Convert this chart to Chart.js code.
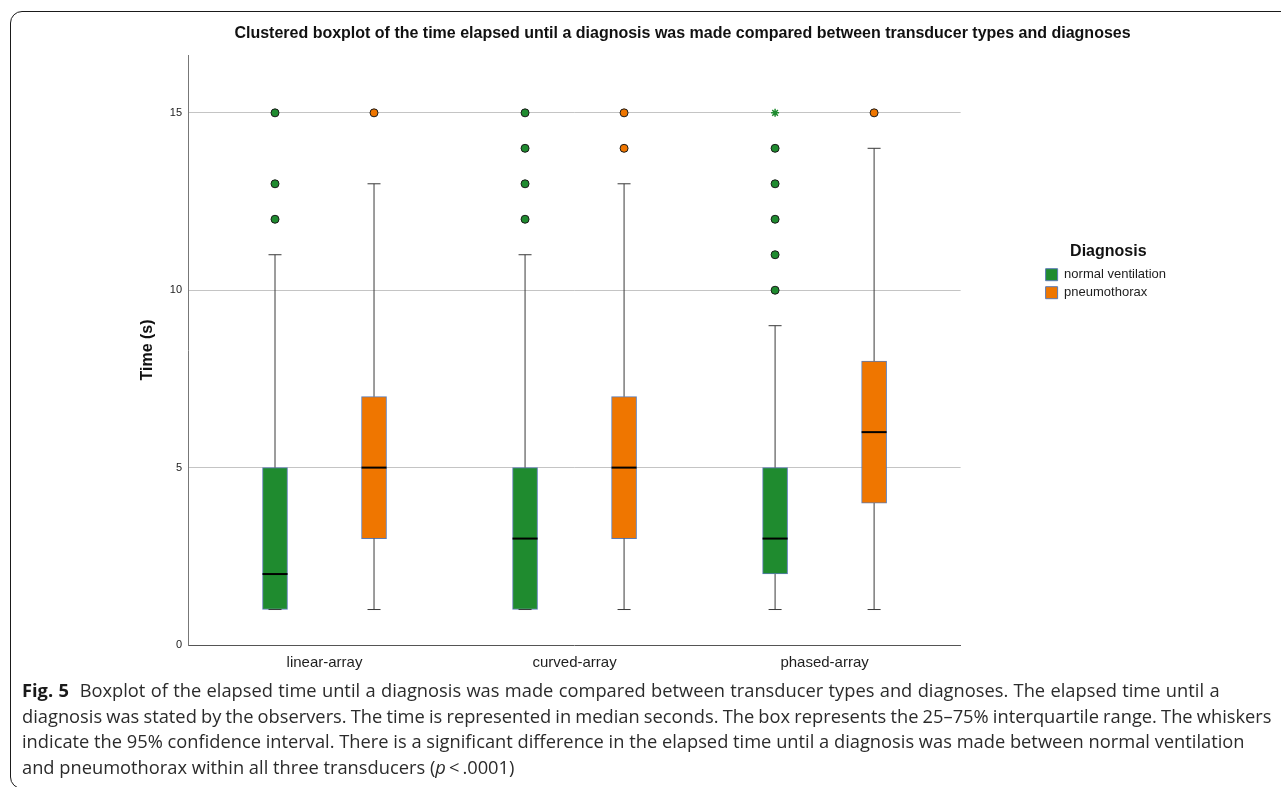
<!DOCTYPE html>
<html>
<head>
<meta charset="utf-8">
<script src="https://cdn.jsdelivr.net/npm/chart.js"></script>
<style>
  html, body { margin: 0; padding: 0; background: #fff; overflow: hidden; width: 1281px; height: 787px; }
  #frame {
    position: absolute; left: 10px; top: 11px; width: 1400px; height: 778px;
    box-sizing: border-box; border: 1px solid #1a1a1a; border-radius: 12px;
  }
  #chart { position: absolute; left: 0; top: 0; }
  #caption {
    position: absolute; left: 22px; top: 677px;
    font-family: "Open Sans", "Noto Sans", sans-serif; font-size: 18.3px; line-height: 25.5px;
    color: #2b2b2b; white-space: nowrap;
  }
  #caption b { font-weight: 700; color: #1a1a1a; }
  #caption .l1 { word-spacing: 0.6px; }
  #caption .l2 { word-spacing: -0.6px; }
</style>
</head>
<body>
<div id="frame"></div>
<canvas id="chart" width="1365" height="680"></canvas>
<div id="caption">
  <span class="l1"><b>Fig. 5</b>&nbsp; Boxplot of the elapsed time until a diagnosis was made compared between transducer types and diagnoses. The elapsed time until a</span><br>
  <span class="l2">diagnosis was stated by the observers. The time is represented in median seconds. The box represents the 25–75% interquartile range. The whiskers</span><br>
  indicate the 95% confidence interval. There is a significant difference in the elapsed time until a diagnosis was made between normal ventilation<br>
  and pneumothorax within all three transducers (<i>p</i>&thinsp;&lt;&thinsp;.0001)
</div>
<script>
const categories = ['linear-array', 'curved-array', 'phased-array'];
const yTicks = [0, 5, 10, 15];

// normal ventilation
const normalMin = [1, 1, 1];
const normalQ1 = [1, 1, 2];
const normalMedian = [2, 3, 3];
const normalQ3 = [5, 5, 5];
const normalMax = [11, 11, 9];
const normalOutliers = [[12, 13, 15], [12, 13, 14, 15], [10, 11, 12, 13, 14]];
const normalExtremes = [[], [], [15]];

// pneumothorax
const pneumoMin = [1, 1, 1];
const pneumoQ1 = [3, 3, 4];
const pneumoMedian = [5, 5, 6];
const pneumoQ3 = [7, 7, 8];
const pneumoMax = [13, 13, 14];
const pneumoOutliers = [[15], [14, 15], [15]];
const pneumoExtremes = [[], [], []];

const GREEN = '#1f8b2f';
const ORANGE = '#ef7600';
const BOX_EDGE = '#5b7bb5';
const GROUP_OFFSET = 0.198;

Chart.defaults.font.family = '"Liberation Sans", Arial, sans-serif';
Chart.defaults.color = '#222';

function boxData(offset, q1, q3) {
  return categories.map((c, i) => ({ x: i + 1 + offset, y: [q1[i], q3[i]] }));
}

function pointData(offset, lists) {
  const pts = [];
  lists.forEach((vals, i) => vals.forEach(v => pts.push({ x: i + 1 + offset, y: v })));
  return pts;
}

// whiskers, caps and median lines on top of the floating bars
const boxWhiskers = {
  id: 'boxWhiskers',
  afterDatasetsDraw(chart) {
    const ctx = chart.ctx;
    const yScale = chart.scales.y;
    chart.data.datasets.forEach((ds, d) => {
      if (!ds.stats) return;
      const meta = chart.getDatasetMeta(d);
      meta.data.forEach((bar, i) => {
        const x = bar.x;
        const half = bar.width / 2;
        const yMin = yScale.getPixelForValue(ds.stats.min[i]);
        const yQ1 = yScale.getPixelForValue(ds.stats.q1[i]);
        const yQ3 = yScale.getPixelForValue(ds.stats.q3[i]);
        const yMax = yScale.getPixelForValue(ds.stats.max[i]);
        const yMed = yScale.getPixelForValue(ds.stats.median[i]);
        ctx.save();
        ctx.strokeStyle = '#3a3a3a';
        ctx.lineWidth = 1;
        ctx.beginPath();
        ctx.moveTo(x, yQ3); ctx.lineTo(x, yMax);
        ctx.moveTo(x - 6.5, yMax); ctx.lineTo(x + 6.5, yMax);
        ctx.moveTo(x, yQ1); ctx.lineTo(x, yMin);
        ctx.moveTo(x - 6.5, yMin); ctx.lineTo(x + 6.5, yMin);
        ctx.stroke();
        ctx.strokeStyle = '#000';
        ctx.lineWidth = 2;
        ctx.beginPath();
        ctx.moveTo(x - half, yMed); ctx.lineTo(x + half, yMed);
        ctx.stroke();
        ctx.restore();
      });
    });
  }
};

// empty right-hand axes used only as gaps around the legend
function spacer(width, weight) {
  return {
    type: 'linear', position: 'right', weight: weight,
    grid: { display: false }, ticks: { display: false }, border: { display: false },
    afterFit(scale) { scale.width = width; }
  };
}

new Chart(document.getElementById('chart'), {
  type: 'bar',
  data: {
    datasets: [
      {
        label: 'normal ventilation',
        data: boxData(-GROUP_OFFSET, normalQ1, normalQ3),
        backgroundColor: GREEN, borderColor: BOX_EDGE, borderWidth: 1, borderSkipped: false,
        grouped: false, maxBarThickness: 25, barPercentage: 1, categoryPercentage: 1,
        stats: { min: normalMin, q1: normalQ1, median: normalMedian, q3: normalQ3, max: normalMax }
      },
      {
        label: 'pneumothorax',
        data: boxData(GROUP_OFFSET, pneumoQ1, pneumoQ3),
        backgroundColor: ORANGE, borderColor: BOX_EDGE, borderWidth: 1, borderSkipped: false,
        grouped: false, maxBarThickness: 25, barPercentage: 1, categoryPercentage: 1,
        stats: { min: pneumoMin, q1: pneumoQ1, median: pneumoMedian, q3: pneumoQ3, max: pneumoMax }
      },
      {
        type: 'scatter', label: 'outliers-normal',
        data: pointData(-GROUP_OFFSET, normalOutliers),
        backgroundColor: GREEN, borderColor: '#1a1a1a', borderWidth: 1, pointRadius: 4
      },
      {
        type: 'scatter', label: 'outliers-pneumo',
        data: pointData(GROUP_OFFSET, pneumoOutliers),
        backgroundColor: ORANGE, borderColor: '#1a1a1a', borderWidth: 1, pointRadius: 4
      },
      {
        type: 'scatter', label: 'extremes-normal',
        data: pointData(-GROUP_OFFSET, normalExtremes),
        pointStyle: 'star', backgroundColor: GREEN, borderColor: GREEN, borderWidth: 1.5, pointRadius: 4
      },
      {
        type: 'scatter', label: 'extremes-pneumo',
        data: pointData(GROUP_OFFSET, pneumoExtremes),
        pointStyle: 'star', backgroundColor: ORANGE, borderColor: ORANGE, borderWidth: 1.5, pointRadius: 4
      }
    ]
  },
  options: {
    responsive: false,
    animation: false,
    events: [],
    layout: { padding: { top: 24, bottom: 5, left: 0, right: 0 } },
    scales: {
      x: {
        type: 'linear', min: 0.454, max: 3.544, offset: false,
        grid: { display: false, drawTicks: false },
        border: { color: '#555', width: 1 },
        afterFit(scale) { scale.height = 30; },
        afterBuildTicks(scale) { scale.ticks = categories.map((c, i) => ({ value: i + 1 })); },
        ticks: {
          padding: 9, font: { size: 15 }, color: '#1e1e1e', maxRotation: 0,
          callback: (v) => categories[v - 1]
        }
      },
      y: {
        min: 0, max: 16.63,
        afterFit(scale) { scale.width = 188; },
        afterBuildTicks(scale) { scale.ticks = yTicks.map(v => ({ value: v })); },
        grid: {
          drawTicks: false,
          color: (c) => (c.tick && c.tick.value === 0 ? 'rgba(0,0,0,0)' : '#c4c4c4')
        },
        border: { color: '#777', width: 1 },
        ticks: { padding: 6, font: { size: 11 }, color: '#222' },
        title: {
          display: true, text: 'Time (s)', font: { size: 16, weight: 'bold' }, color: '#111',
          padding: { top: 138, bottom: 0 }
        }
      },
      gapA: spacer(80, 0),
      gapB: spacer(189, 2000)
    },
    plugins: {
      title: {
        display: true,
        text: 'Clustered boxplot of the time elapsed until a diagnosis was made compared between transducer types and diagnoses',
        font: { size: 16, weight: 'bold' }, color: '#111',
        padding: { top: 0, bottom: 11.8 }
      },
      legend: {
        position: 'right', align: 'start',
        title: {
          display: true, text: 'Diagnosis', font: { size: 16, weight: 'bold' }, color: '#111',
          padding: { top: 220, bottom: 0 }
        },
        labels: {
          boxWidth: 12, boxHeight: 12, padding: 5, font: { size: 13 }, color: '#1e1e1e',
          filter: (item) => item.datasetIndex < 2
        }
      },
      tooltip: { enabled: false }
    }
  },
  plugins: [boxWhiskers]
});
</script>
</body>
</html>
